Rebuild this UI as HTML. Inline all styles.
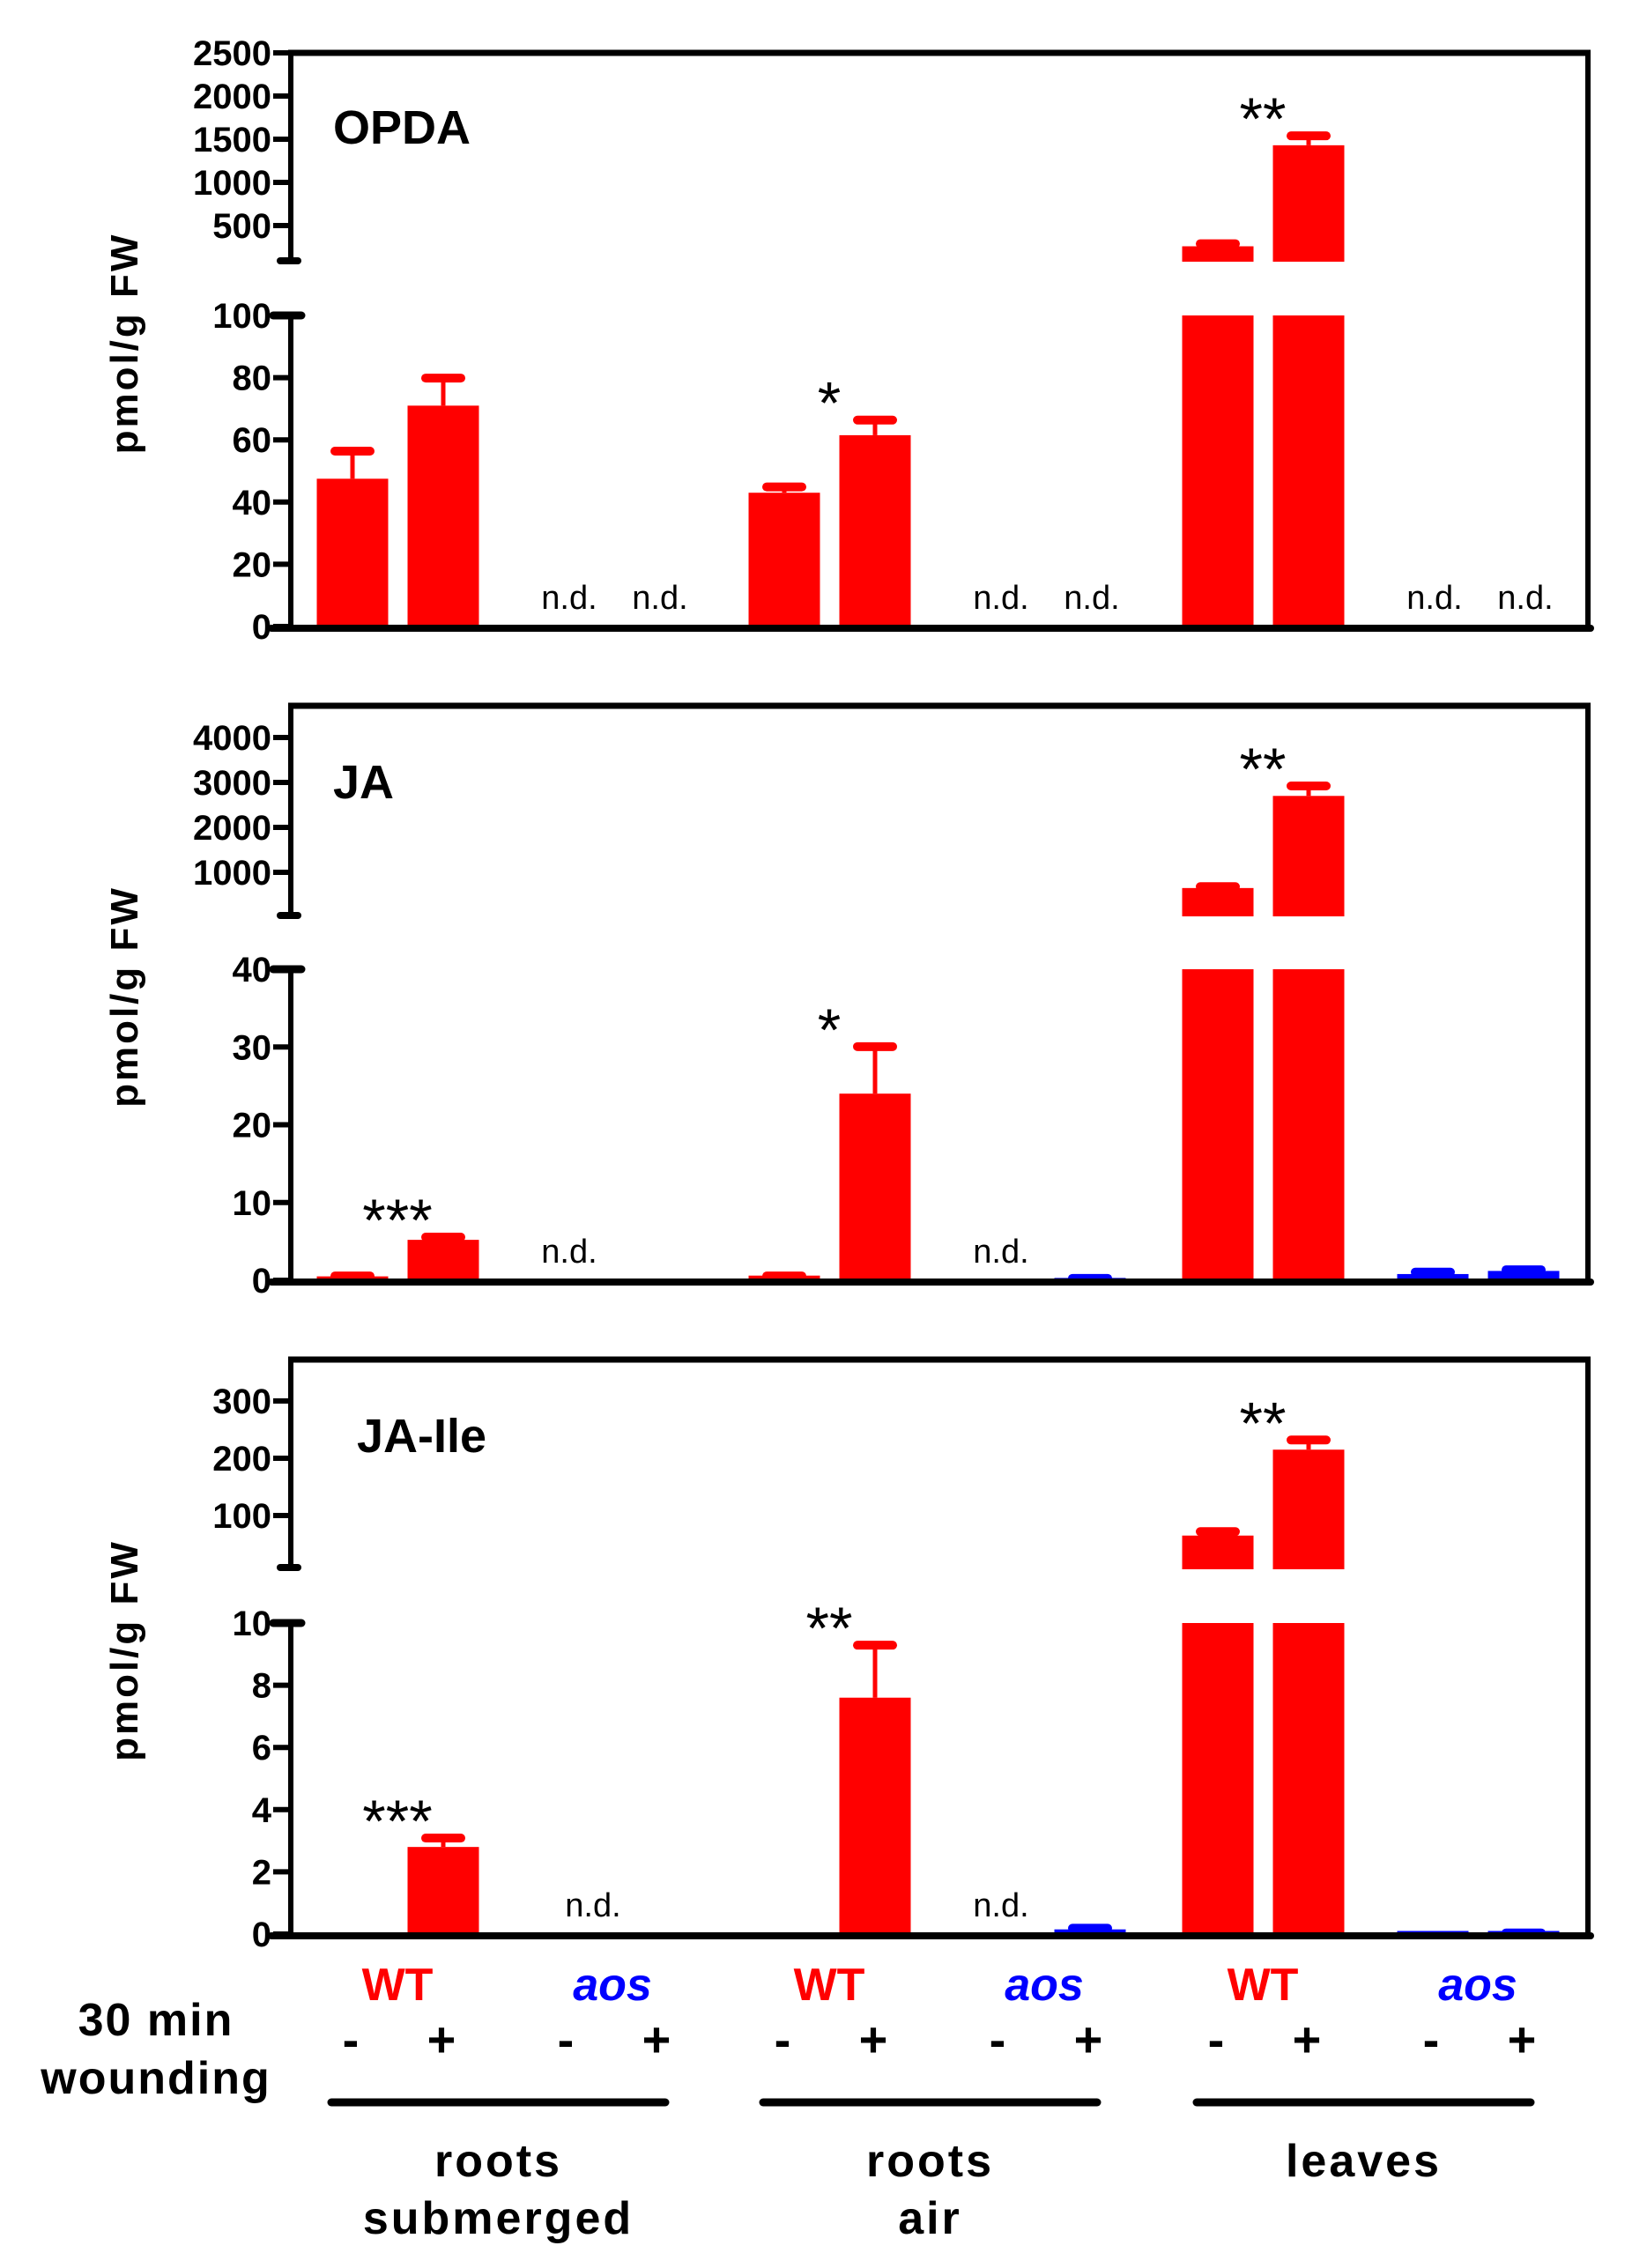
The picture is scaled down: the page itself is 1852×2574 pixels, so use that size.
<!DOCTYPE html>
<html><head><meta charset="utf-8"><style>
html,body{margin:0;padding:0;background:#fff}
svg{display:block;font-family:"Liberation Sans",Arial,sans-serif}
</style></head><body>
<svg id="chart" width="1852" height="2574" viewBox="0 0 1852 2574" xmlns="http://www.w3.org/2000/svg"></svg>
<script>
// ---- data ----
const categories = ["WT-sub -","WT-sub +","aos-sub -","aos-sub +","WT-air -","WT-air +","aos-air -","aos-air +","WT-leaf -","WT-leaf +","aos-leaf -","aos-leaf +"];
const genotype = ["WT","WT","aos","aos","WT","WT","aos","aos","WT","WT","aos","aos"];
const opdaValues = [47.5, 71, null, null, 43, 61.5, null, null, 260, 1430, null, null];
const opdaErrors = [10, 10, 0, 0, 3, 6, 0, 0, 70, 150, 0, 0];
const jaValues = [0.5, 5.2, null, null, 0.6, 24, null, 0.3, 650, 2700, 0.8, 1.2];
const jaErrors = [0.5, 0.8, 0, 0, 0.4, 6.5, 0, 0.4, 110, 300, 0.7, 0.6];
const jaileValues = [0, 2.8, null, 0.05, 0, 7.6, null, 0.15, 65, 215, 0.1, 0.1];
const jaileErrors = [0, 0.4, 0, 0, 0, 1.8, 0, 0.15, 13, 23, 0, 0.05];
const opdaUpperTicks = [500, 1000, 1500, 2000, 2500];
const opdaLowerTicks = [0, 20, 40, 60, 80, 100];
const jaUpperTicks = [1000, 2000, 3000, 4000];
const jaLowerTicks = [0, 10, 20, 30, 40];
const jaileUpperTicks = [100, 200, 300];
const jaileLowerTicks = [0, 2, 4, 6, 8, 10];
const opdaStars = ["", "", "", "", "", "*", "", "", "", "**", "", ""];
const jaStars = ["", "***", "", "", "", "*", "", "", "", "**", "", ""];
const jaileStars = ["", "***", "", "", "", "**", "", "", "", "**", "", ""];
const opdaND = [false,false,true,true,false,false,true,true,false,false,true,true];
const jaND = [false,false,true,false,false,false,true,false,false,false,false,false];
const jaileND = [false,false,true,false,false,false,true,false,false,false,false,false];

const NS = "http://www.w3.org/2000/svg";
const svg = document.getElementById("chart");
function mk(tag, attrs, parent, text) {
  const e = document.createElementNS(NS, tag);
  for (const k in attrs) e.setAttribute(k, attrs[k]);
  if (text !== undefined) e.textContent = text;
  (parent || svg).appendChild(e);
  return e;
}
const AX = 330, RX = 1802, BW = 81;
function xCenter(i) {
  const g = Math.floor(i / 4), k = i % 4;
  const base = [400, 890, 1382][g];
  return base + [0, 103, 244, 347][k];
}
const RED = "#ff0000", BLUE = "#0000ff";

function panel(p) {
  const g = mk("g", {});
  
  
  const yU = v => p.uRefY - (v - p.uRefV) * p.uPer;
  const yL = v => p.base - v * (p.base - p.lTop) / p.lMax;
  p.values.forEach((v, i) => {
    if (v === null) return;
    const cx = xCenter(i), col = genotype[i] === "WT" ? RED : BLUE;
    const top = v + p.errors[i];
    const bar = mk("g", {}, g);
    
    
    if (v > p.lMax) {
      mk("rect", {x: cx - BW/2, y: p.lTop, width: BW, height: p.base - p.lTop, fill: col}, bar);
      const yy = yU(v);
      mk("rect", {x: cx - BW/2, y: yy, width: BW, height: p.uCut - yy, fill: col}, bar);
      if (p.errors[i] > 0) {
        const ey = yU(top);
        mk("line", {x1: cx, x2: cx, y1: yy, y2: ey, stroke: col, "stroke-width": 5}, bar);
        mk("line", {x1: cx - 20, x2: cx + 20, y1: ey + 4, y2: ey + 4, stroke: col, "stroke-width": 10, "stroke-linecap": "round"}, bar);
      }
    } else {
      const yy = yL(v);
      if (v > 0) mk("rect", {x: cx - BW/2, y: yy, width: BW, height: p.base - yy, fill: col}, bar);
      if (p.errors[i] > 0) {
        const ey = yL(top);
        mk("line", {x1: cx, x2: cx, y1: yy, y2: ey, stroke: col, "stroke-width": 5}, bar);
        mk("line", {x1: cx - 20, x2: cx + 20, y1: ey + 4, y2: ey + 4, stroke: col, "stroke-width": 10, "stroke-linecap": "round"}, bar);
      }
    }
    if (p.stars[i]) {
      const sy = (v > p.lMax ? yU(top) : yL(top)) + 8;
      const st = mk("text", {x: cx - 52, y: sy, "font-size": 68, "text-anchor": "middle"}, g, p.stars[i]);
      
      
    }
  });
  p.nd.forEach((n, i) => {
    if (!n) return;
    const t = mk("text", {x: xCenter(i) + 2 + (p.ndShift || 0) * (i % 4 === 2 && i < 4 ? 1 : 0), y: p.base - 20, "font-size": 38, "text-anchor": "middle"}, g, "n.d.");
    
    
  });
  mk("line", {x1: AX - 3, x2: RX + 3, y1: p.top, y2: p.top, stroke: "#000", "stroke-width": 7}, g);
  mk("line", {x1: RX, x2: RX, y1: p.top, y2: p.base, stroke: "#000", "stroke-width": 6}, g);
  const xa = mk("line", {x1: AX - 22, x2: RX + 3, y1: p.base + 2, y2: p.base + 2, stroke: "#000", "stroke-width": 8, "stroke-linecap": "round"}, g);
  
  
  mk("line", {x1: AX, x2: AX, y1: p.top, y2: p.uEnd, stroke: "#000", "stroke-width": 6}, g);
  mk("line", {x1: AX, x2: AX, y1: p.lTop, y2: p.base, stroke: "#000", "stroke-width": 6}, g);
  mk("line", {x1: AX - 12, x2: AX + 8, y1: p.uEnd, y2: p.uEnd, stroke: "#000", "stroke-width": 8, "stroke-linecap": "round"}, g);
  mk("line", {x1: AX - 20, x2: AX + 12, y1: p.lTop, y2: p.lTop, stroke: "#000", "stroke-width": 9, "stroke-linecap": "round"}, g);
  p.uTicks.forEach(t => {
    const y = yU(t);
    mk("line", {x1: AX - 20, x2: AX, y1: y, y2: y, stroke: "#000", "stroke-width": 6}, g);
    const tl = mk("text", {x: AX - 22, y: y + 14, "font-size": 40, "font-weight": "bold", "text-anchor": "end"}, g, t);
    
    
  });
  p.lTicks.forEach(t => {
    const y = yL(t);
    mk("line", {x1: AX - 20, x2: AX, y1: y, y2: y, stroke: "#000", "stroke-width": 6}, g);
    const tl = mk("text", {x: AX - 22, y: y + 14, "font-size": 40, "font-weight": "bold", "text-anchor": "end"}, g, t);
    
    
  });
  const ti = mk("text", {x: p.titleX, y: p.titleY, "font-size": 54, "font-weight": "bold"}, g, p.title);
  
  
  const yl = mk("text", {x: 0, y: 0, "font-size": 44, "font-weight": "bold", "text-anchor": "middle", "letter-spacing": 3, transform: "translate(156," + ((p.top + p.base) / 2 + 4) + ") rotate(-90)"}, g, "pmol/g FW");
  
  
}

panel({name: "opda", title: "OPDA", titleX: 378, titleY: 163, top: 60, base: 711, uRefV: 500, uRefY: 256, uPer: 49/500, uEnd: 296, uCut: 297, lTop: 358, lMax: 100,
  values: opdaValues, errors: opdaErrors, uTicks: opdaUpperTicks, lTicks: opdaLowerTicks, stars: opdaStars, nd: opdaND});
panel({name: "ja", title: "JA", titleX: 378, titleY: 906, top: 801, base: 1453, uRefV: 1000, uRefY: 990, uPer: 51/1000, uEnd: 1039, uCut: 1040, lTop: 1100, lMax: 40,
  values: jaValues, errors: jaErrors, uTicks: jaUpperTicks, lTicks: jaLowerTicks, stars: jaStars, nd: jaND});
panel({name: "jaile", title: "JA-Ile", titleX: 405, titleY: 1648, top: 1543, base: 2195, uRefV: 100, uRefY: 1720, uPer: 65/100, uEnd: 1779, uCut: 1781, lTop: 1842, lMax: 10, ndShift: 27,
  values: jaileValues, errors: jaileErrors, uTicks: jaileUpperTicks, lTicks: jaileLowerTicks, stars: jaileStars, nd: jaileND});

const groupLabels1 = ["roots", "roots", "leaves"];
const groupLabels2 = ["submerged", "air", ""];
for (let gi = 0; gi < 3; gi++) {
  const wt = mk("text", {x: xCenter(gi*4) + 51, y: 2270, "font-size": 52, "font-weight": "bold", fill: RED, "text-anchor": "middle"}, svg, "WT");
  
  
  const ao = mk("text", {x: xCenter(gi*4+2) + 51, y: 2270, "font-size": 52, "font-weight": "bold", "font-style": "italic", fill: BLUE, "text-anchor": "middle"}, svg, "aos");
  
  
  for (let k = 0; k < 4; k++) {
    const s = mk("text", {x: xCenter(gi*4+k) - 2, y: 2334, "font-size": 56, "font-weight": "bold", "text-anchor": "middle"}, svg, k % 2 ? "+" : "-");
    
    
  }
  const x0 = xCenter(gi*4) - 24, x1 = xCenter(gi*4+3) + 8;
  const ln = mk("line", {x1: x0, x2: x1, y1: 2386, y2: 2386, stroke: "#000", "stroke-width": 9, "stroke-linecap": "round"});
  
  
  const cx = (x0 + x1) / 2;
  const t1 = mk("text", {x: cx, y: 2470, "font-size": 52, "font-weight": "bold", "text-anchor": "middle", "letter-spacing": 3}, svg, groupLabels1[gi]);
  
  
  if (groupLabels2[gi]) {
    const t2 = mk("text", {x: cx, y: 2535, "font-size": 52, "font-weight": "bold", "text-anchor": "middle", "letter-spacing": 3}, svg, groupLabels2[gi]);
    
    
  }
}
const w1 = mk("text", {x: 177, y: 2310, "font-size": 52, "font-weight": "bold", "text-anchor": "middle", "letter-spacing": 2}, svg, "30 min");


const w2 = mk("text", {x: 177, y: 2376, "font-size": 52, "font-weight": "bold", "text-anchor": "middle", "letter-spacing": 2}, svg, "wounding");


</script>
</body></html>
